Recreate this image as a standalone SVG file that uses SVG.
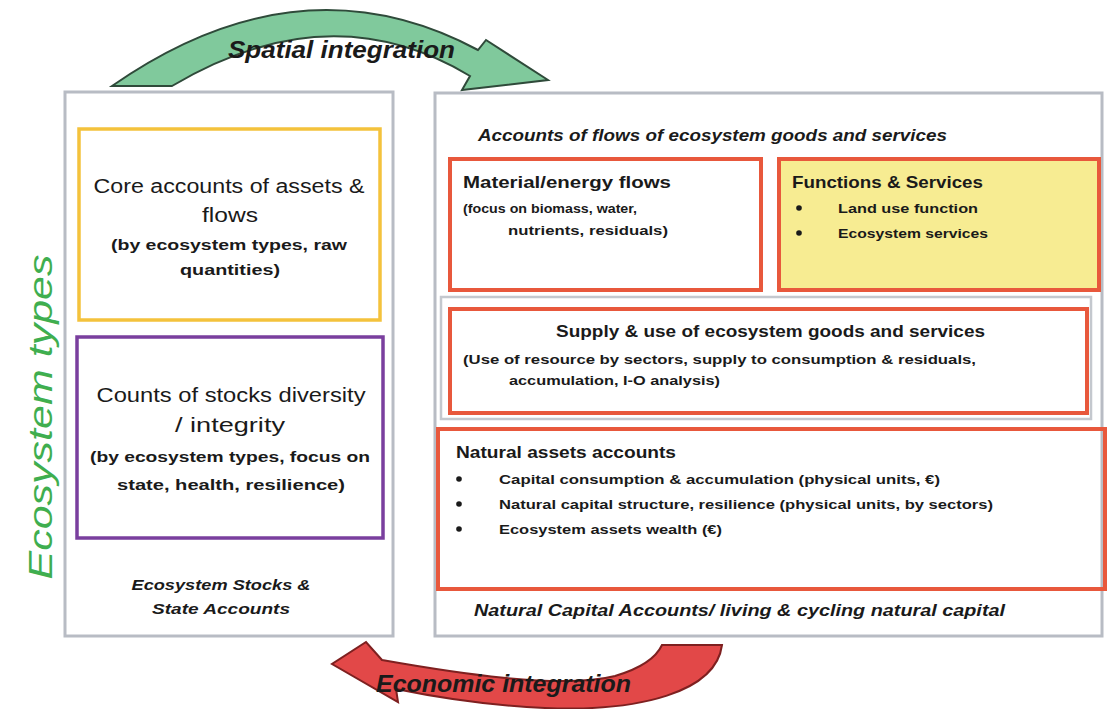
<svg xmlns="http://www.w3.org/2000/svg" width="1108" height="709" viewBox="0 0 1108 709">
<style>
text{font-family:"Liberation Sans",Arial,sans-serif;fill:#1a1a1a}
.b{font-weight:bold}
.i{font-style:italic}
.t17{font-size:17px}
.t13{font-size:13.5px}
.t20{font-size:20px}
.t15{font-size:15px}
.frame{fill:none;stroke:#b8bcc4;stroke-width:3}
.red{fill:none;stroke:#e8583c;stroke-width:4}
</style>
<rect width="1108" height="709" fill="#ffffff"/>

<g id="left-panel">
<rect class="frame" x="65" y="92" width="328" height="544"/>
<g id="core-accounts">
<rect x="79" y="129" width="301" height="191" fill="none" stroke="#f4c23c" stroke-width="3.5"/>
<text class="t20" x="229" y="193" text-anchor="middle" textLength="271" lengthAdjust="spacingAndGlyphs">Core accounts of assets &amp;</text>
<text class="t20" x="230" y="222" text-anchor="middle" textLength="56" lengthAdjust="spacingAndGlyphs">flows</text>
<text class="t15 b" x="229" y="250" text-anchor="middle" textLength="236" lengthAdjust="spacingAndGlyphs">(by ecosystem types, raw</text>
<text class="t15 b" x="230" y="275" text-anchor="middle" textLength="100" lengthAdjust="spacingAndGlyphs">quantities)</text>
</g>
<g id="counts-stocks">
<rect x="77" y="337" width="306" height="201" fill="none" stroke="#7a3f9e" stroke-width="3.5"/>
<text class="t20" x="231" y="402" text-anchor="middle" textLength="269" lengthAdjust="spacingAndGlyphs">Counts of stocks diversity</text>
<text class="t20" x="230" y="432" text-anchor="middle" textLength="110" lengthAdjust="spacingAndGlyphs">/ integrity</text>
<text class="t15 b" x="230" y="462" text-anchor="middle" textLength="280" lengthAdjust="spacingAndGlyphs">(by ecosystem types, focus on</text>
<text class="t15 b" x="231" y="490" text-anchor="middle" textLength="228" lengthAdjust="spacingAndGlyphs">state, health, resilience)</text>
</g>
<text class="t15 b i" x="221" y="590" text-anchor="middle" textLength="179" lengthAdjust="spacingAndGlyphs">Ecosystem Stocks &amp;</text>
<text class="t15 b i" x="221" y="614" text-anchor="middle" textLength="138" lengthAdjust="spacingAndGlyphs">State Accounts</text>
</g>

<text id="ecosystem-types" class="i" x="0" y="0" transform="translate(52 417) rotate(-90)" text-anchor="middle" font-size="34" style="fill:#3fae4f" textLength="325" lengthAdjust="spacingAndGlyphs">Ecosystem types</text>

<g id="right-panel">
<rect class="frame" x="435" y="93" width="667" height="543"/>
<rect x="441" y="297" width="650" height="122" fill="none" stroke="#c4c8ce" stroke-width="2.5"/>
<text class="t17 b i" x="478" y="141" textLength="469" lengthAdjust="spacingAndGlyphs">Accounts of flows of ecosystem goods and services</text>

<g id="material-energy">
<rect class="red" x="450" y="159" width="311" height="131"/>
<text class="t17 b" x="463" y="188" textLength="208" lengthAdjust="spacingAndGlyphs">Material/energy flows</text>
<text class="t13 b" x="463" y="213" textLength="174" lengthAdjust="spacingAndGlyphs">(focus on biomass, water,</text>
<text class="t13 b" x="508" y="235" textLength="160" lengthAdjust="spacingAndGlyphs">nutrients, residuals)</text>
</g>

<g id="functions-services">
<rect x="779" y="159" width="320" height="131" fill="#f7ec92" stroke="#e8583c" stroke-width="4"/>
<text class="t17 b" x="792" y="188" textLength="191" lengthAdjust="spacingAndGlyphs">Functions &amp; Services</text>
<circle cx="799" cy="208" r="2.8" fill="#1a1a1a"/>
<text class="t13 b" x="838" y="213" textLength="140" lengthAdjust="spacingAndGlyphs">Land use function</text>
<circle cx="799" cy="233" r="2.8" fill="#1a1a1a"/>
<text class="t13 b" x="838" y="238" textLength="150" lengthAdjust="spacingAndGlyphs">Ecosystem services</text>
</g>

<g id="supply-use">
<rect class="red" x="450" y="309" width="637" height="104"/>
<text class="t17 b" x="556" y="337" textLength="429" lengthAdjust="spacingAndGlyphs">Supply &amp; use of ecosystem goods and services</text>
<text class="t13 b" x="463" y="364" textLength="513" lengthAdjust="spacingAndGlyphs">(Use of resource by sectors, supply to consumption &amp; residuals,</text>
<text class="t13 b" x="509" y="385" textLength="211" lengthAdjust="spacingAndGlyphs">accumulation, I-O analysis)</text>
</g>

<g id="natural-assets">
<rect class="red" x="438" y="429" width="667" height="160"/>
<text class="t17 b" x="456" y="458" textLength="220" lengthAdjust="spacingAndGlyphs">Natural assets accounts</text>
<circle cx="459" cy="479" r="2.8" fill="#1a1a1a"/>
<text class="t13 b" x="499" y="484" textLength="441" lengthAdjust="spacingAndGlyphs">Capital consumption &amp; accumulation (physical units, €)</text>
<circle cx="459" cy="504" r="2.8" fill="#1a1a1a"/>
<text class="t13 b" x="499" y="509" textLength="494" lengthAdjust="spacingAndGlyphs">Natural capital structure, resilience (physical units, by sectors)</text>
<circle cx="459" cy="529" r="2.8" fill="#1a1a1a"/>
<text class="t13 b" x="499" y="534" textLength="223" lengthAdjust="spacingAndGlyphs">Ecosystem assets wealth (€)</text>
</g>
<text class="t17 b i" x="474" y="616" textLength="531" lengthAdjust="spacingAndGlyphs">Natural Capital Accounts/ living &amp; cycling natural capital</text>
</g>

<g id="connectors">
<g id="spatial-arrow">
<path d="M112,86 Q300,-45 478,50 L486,40 L548,80 L462,90 L470,76 Q330,-8 172,86 Z" fill="#80c99c" stroke="#2f4a3a" stroke-width="2"/>
<text class="i b" x="228" y="58" font-size="23" textLength="227" lengthAdjust="spacingAndGlyphs">Spatial integration</text>
</g>
<g id="economic-arrow">
<path d="M722,645 C716,692 640,712 545,708 C480,705 430,696 396,689 L398,702 L332,664 L366,642 L382,660 C450,672 560,690 615,676 C642,668 656,658 662,645 Z" fill="#e24848" stroke="#7e2020" stroke-width="2"/>
<text class="i b" x="376" y="692" font-size="23" textLength="255" lengthAdjust="spacingAndGlyphs">Economic integration</text>
</g>
</g>
</svg>
